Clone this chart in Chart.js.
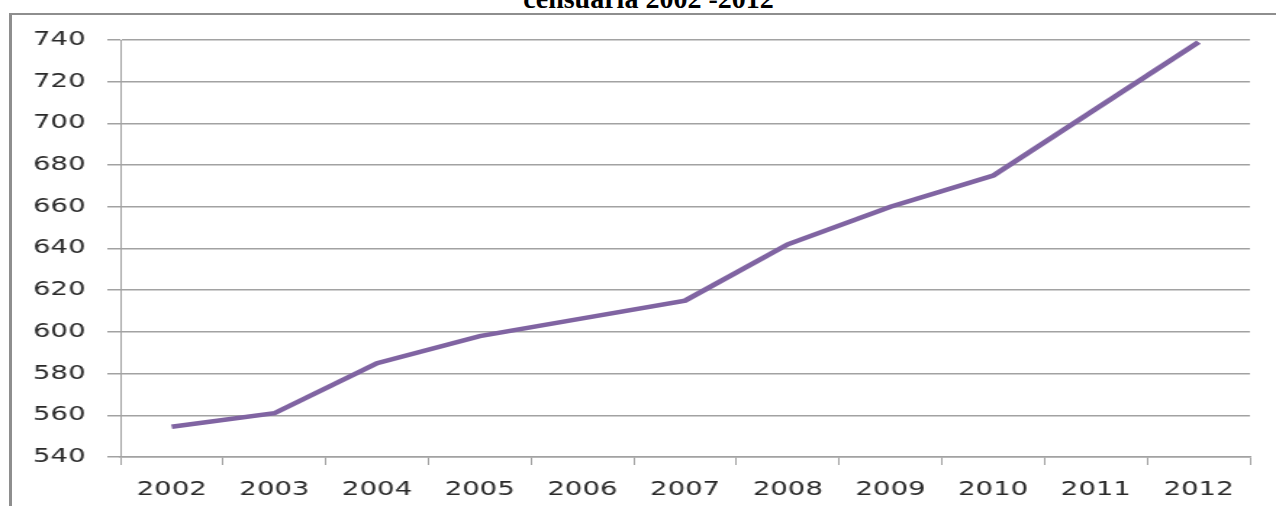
<!DOCTYPE html>
<html>
<head>
<meta charset="utf-8">
<script src="https://cdn.jsdelivr.net/npm/chart.js@4"></script>
<style>
  html, body { margin: 0; padding: 0; background: #fff; overflow: hidden; }
  #page { position: relative; width: 1276px; height: 506px; overflow: hidden; }
  #frame {
    position: absolute; left: 9px; top: 13px; width: 1300px; height: 600px;
    border-left: 3px solid #8e8e8e; border-top: 2px solid #8e8e8e;
  }
  #title {
    position: absolute; left: 0; top: -15px; width: 1297px;
    text-align: center; white-space: nowrap;
    font: bold 28px "Liberation Serif", serif; line-height: 28px; color: #000;
  }
  /* the chart is laid out narrow and widened, so the glyphs come out broad */
  #stretch {
    position: absolute; left: 0; top: 0; width: 880px; height: 506px;
    transform: scaleX(1.45); transform-origin: 0 0;
  }
</style>
</head>
<body>
<div id="page">
  <div id="frame"></div>
  <div id="title">censuaria 2002 -2012</div>
  <div id="stretch"><canvas id="popChart"></canvas></div>
</div>
<script>
const years = ['2002', '2003', '2004', '2005', '2006', '2007', '2008', '2009', '2010', '2011', '2012'];
const population = [554.5, 561, 585, 598, 606.5, 615, 642, 660, 675, 707, 739];
const yMin = 540;
const yMax = 740;
const yStep = 20;

const gridColor = '#a2a2a2';
const textColor = '#2a2a2a';
const tickFont = { family: 'DejaVu Sans', size: 19 };

const ctx = document.getElementById('popChart').getContext('2d');

new Chart(ctx, {
  type: 'line',
  data: {
    labels: years,
    datasets: [{
      data: population,
      borderColor: '#8064a2',
      borderWidth: 4.5,
      pointRadius: 0,
      tension: 0,
      fill: false
    }]
  },
  options: {
    responsive: true,
    maintainAspectRatio: false,
    animation: false,
    layout: { padding: { top: 40, right: 18, left: 0, bottom: 0 } },
    plugins: {
      legend: { display: false },
      tooltip: { enabled: false }
    },
    scales: {
      x: {
        offset: true,
        grid: {
          offset: true,
          drawOnChartArea: false,
          drawTicks: true,
          tickLength: 8,
          color: gridColor,
          lineWidth: 1
        },
        border: { color: gridColor, width: 1.5 },
        ticks: {
          color: textColor,
          font: tickFont,
          padding: 14,
          maxRotation: 0,
          autoSkip: false
        },
        afterFit: scale => { scale.height = 49; }
      },
      y: {
        min: yMin,
        max: yMax,
        grid: { tickLength: 9, color: gridColor, lineWidth: 1.5 },
        border: { color: gridColor, width: 1 },
        ticks: {
          stepSize: yStep,
          color: textColor,
          font: tickFont,
          padding: 15
        },
        afterFit: scale => { scale.width = 83; }
      }
    }
  }
});
</script>
</body>
</html>
